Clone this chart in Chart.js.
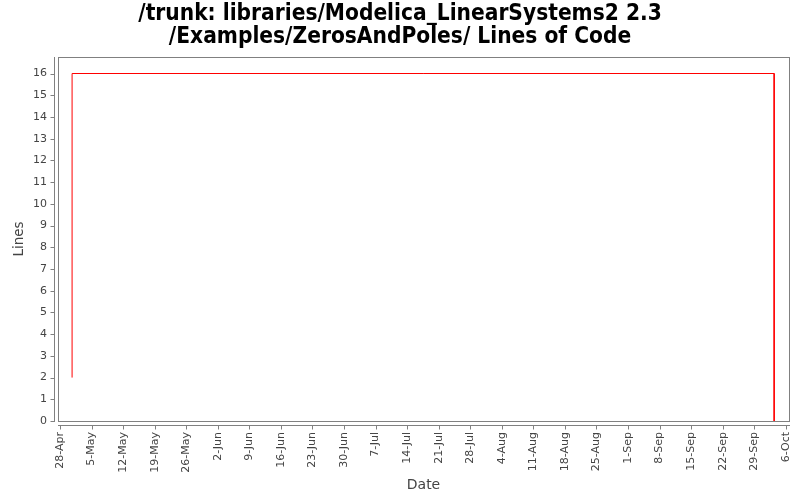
<!DOCTYPE html>
<html><head><meta charset="utf-8">
<script src="https://cdn.jsdelivr.net/npm/chart.js@4"></script>
<style>html,body{margin:0;padding:0;background:#fff}#wrap{width:800px;height:500px}</style>
</head><body><div id="wrap"><canvas id="c" width="800" height="500"></canvas></div>
<script>
const titleLines = ['/trunk: libraries/Modelica_LinearSystems2 2.3', '/Examples/ZerosAndPoles/ Lines of Code'];
const pointDates = ['2014-04-30T16:00:00Z', '2014-04-30T16:01:00Z', '2014-10-03T10:00:00Z', '2014-10-03T10:01:00Z'];
const lineCounts = [2, 16, 16, 0];
const tickDates = ['2014-04-28','2014-05-05','2014-05-12','2014-05-19','2014-05-26','2014-06-02','2014-06-09','2014-06-16','2014-06-23','2014-06-30','2014-07-07','2014-07-14','2014-07-21','2014-07-28','2014-08-04','2014-08-11','2014-08-18','2014-08-25','2014-09-01','2014-09-08','2014-09-15','2014-09-22','2014-09-29','2014-10-06'];
const tickLabels = ['28-Apr','5-May','12-May','19-May','26-May','2-Jun','9-Jun','16-Jun','23-Jun','30-Jun','7-Jul','14-Jul','21-Jul','28-Jul','4-Aug','11-Aug','18-Aug','25-Aug','1-Sep','8-Sep','15-Sep','22-Sep','29-Sep','6-Oct'];
const yTicks = [0,1,2,3,4,5,6,7,8,9,10,11,12,13,14,15,16];
const xMinDate = '2014-04-27T13:00:00Z';
const xMaxDate = '2014-10-06T17:00:00Z';

const ms = s => Date.parse(s.length === 10 ? s + 'T00:00:00Z' : s);

const axisPlugin = {
  id: 'axisPlugin',
  afterDraw(chart) {
    const ctx = chart.ctx, a = chart.chartArea;
    const xs = chart.scales.x, ys = chart.scales.y;
    ctx.save();
    ctx.strokeStyle = '#808080';
    ctx.lineWidth = 1;
    ctx.strokeRect(Math.round(a.left) + 0.5, Math.round(a.top) + 0.5, Math.round(a.right - a.left), Math.round(a.bottom - a.top));
    const yl = Math.round(a.left) - 4 + 0.5;
    ctx.beginPath();
    ctx.moveTo(yl, a.top); ctx.lineTo(yl, a.bottom + 1);
    ys.ticks.forEach(t => {
      const y = Math.round(ys.getPixelForValue(t.value)) + 0.5;
      ctx.moveTo(yl - 4, y); ctx.lineTo(yl, y);
    });
    const xl = Math.round(a.bottom) + 4 + 0.5;
    ctx.moveTo(a.left, xl); ctx.lineTo(a.right + 1, xl);
    xs.ticks.forEach(t => {
      const x = Math.round(xs.getPixelForValue(t.value)) + 0.5;
      ctx.moveTo(x, xl); ctx.lineTo(x, xl + 4);
    });
    ctx.stroke();
    ctx.restore();
  }
};

new Chart(document.getElementById('c'), {
  type: 'line',
  data: {
    datasets: [{
      data: pointDates.map((d, i) => ({x: ms(d), y: lineCounts[i]})),
      borderColor: '#ff0000',
      borderWidth: 1,
      pointRadius: 0,
      tension: 0,
      fill: false
    }]
  },
  options: {
    responsive: false,
    animation: false,
    events: [],
    layout: {padding: {left: 11, right: 11, top: 0, bottom: 0}},
    plugins: {
      legend: {display: false},
      tooltip: {enabled: false},
      title: {
        display: true,
        text: titleLines,
        color: '#000',
        font: {family: '"DejaVu Sans Condensed", "DejaVu Sans"', size: 22.5, weight: 'bold', lineHeight: 1.0},
        padding: {top: 3, bottom: 9}
      }
    },
    scales: {
      x: {
        type: 'linear',
        min: ms(xMinDate),
        max: ms(xMaxDate),
        afterBuildTicks(s) { s.ticks = tickDates.map(d => ({value: ms(d)})); },
        afterFit(s) { s.height = 79; s.paddingLeft = 0; s.paddingRight = 0; },
        grid: {display: false, drawTicks: false},
        border: {display: false},
        ticks: {
          autoSkip: false,
          minRotation: 90, maxRotation: 90,
          padding: 11,
          color: '#444',
          font: {family: '"DejaVu Sans"', size: 11},
          callback: (v, i) => tickLabels[i]
        },
        title: {display: true, text: 'Date', color: '#444', font: {family: '"DejaVu Sans"', size: 14}, padding: {top: 0, bottom: 6}}
      },
      y: {
        type: 'linear',
        min: 0,
        max: 16.76,
        afterBuildTicks(s) { s.ticks = yTicks.map(v => ({value: v})); },
        afterFit(s) { s.width = 47; s.paddingTop = 0; s.paddingBottom = 0; },
        grid: {display: false, drawTicks: false},
        border: {display: false},
        ticks: {
          padding: 11,
          color: '#444',
          font: {family: '"DejaVu Sans"', size: 11},
          callback: v => String(v)
        },
        title: {display: true, text: 'Lines', color: '#444', font: {family: '"DejaVu Sans"', size: 13.5}, padding: {top: 0, bottom: 0}}
      }
    }
  },
  plugins: [axisPlugin]
});
</script>
</body></html>
